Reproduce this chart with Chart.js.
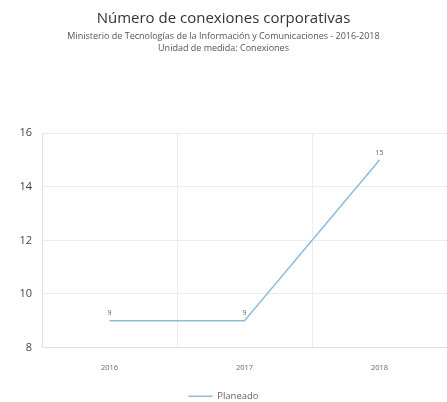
<!DOCTYPE html>
<html>
<head>
<meta charset="utf-8">
<script src="https://cdn.jsdelivr.net/npm/chart.js@4/dist/chart.umd.min.js"></script>
<style>
  html, body { margin: 0; padding: 0; background: #fff; }
  #wrap { width: 447px; height: 402px; }
</style>
</head>
<body>
<div id="wrap"><canvas id="c" width="447" height="402"></canvas></div>
<script>
const categories = ['2016', '2017', '2018'];
const plannedValues = [9, 9, 15];
const seriesName = 'Planeado';
const yTicks = [8, 10, 12, 14, 16];
const titleText = 'Número de conexiones corporativas';
const subtitleLines = [
  'Ministerio de Tecnologías de la Información y Comunicaciones - 2016-2018',
  'Unidad de medida: Conexiones'
];

const FONT = "'Open Sans', 'Noto Sans', sans-serif";

const valueLabels = {
  id: 'valueLabels',
  afterDatasetsDraw(chart) {
    const ctx = chart.ctx;
    ctx.save();
    ctx.font = '7px ' + FONT;
    ctx.fillStyle = '#666';
    ctx.textAlign = 'center';
    ctx.textBaseline = 'bottom';
    chart.data.datasets.forEach((ds, i) => {
      chart.getDatasetMeta(i).data.forEach((pt, j) => {
        ctx.fillText(String(ds.data[j]), pt.x, pt.y - 4);
      });
    });
    ctx.restore();
  }
};

new Chart(document.getElementById('c'), {
  type: 'line',
  data: {
    labels: categories,
    datasets: [{
      label: seriesName,
      data: plannedValues,
      borderColor: '#8cbcdb',
      backgroundColor: '#8cbcdb',
      borderWidth: 1.5,
      pointRadius: 0,
      tension: 0,
      fill: false
    }]
  },
  options: {
    responsive: false,
    animation: false,
    devicePixelRatio: 1,
    layout: { padding: { left: 0, right: 0, top: 0, bottom: -9 } },
    plugins: {
      title: {
        display: true,
        text: titleText,
        color: '#333',
        font: { family: FONT, size: 15, weight: 'normal' },
        padding: { top: 10, bottom: 0 }
      },
      subtitle: {
        display: true,
        text: subtitleLines,
        color: '#555',
        font: { family: FONT, size: 9, weight: 'normal', lineHeight: 1.35 },
        padding: { top: 2, bottom: 79 }
      },
      legend: {
        display: true,
        position: 'bottom',
        labels: {
          usePointStyle: true,
          pointStyle: 'line',
          pointStyleWidth: 24,
          boxWidth: 24,
          color: '#666',
          font: { family: FONT, size: 9.5 },
          padding: 1
        }
      },
      tooltip: { enabled: false }
    },
    scales: {
      x: {
        offset: true,
        grid: { offset: true, color: '#ececec', drawTicks: false },
        border: { color: '#e0e0e0' },
        ticks: { color: '#666', font: { family: FONT, size: 7.5 }, padding: 16 },
        afterFit(scale) { scale.height = 43; }
      },
      y: {
        min: 8,
        max: 16,
        afterBuildTicks(scale) { scale.ticks = yTicks.map(v => ({ value: v })); },
        grid: { color: '#ececec', drawTicks: false },
        border: { color: '#e0e0e0' },
        ticks: { color: '#444', font: { family: FONT, size: 11 }, padding: 10 },
        afterFit(scale) { scale.width = 42; }
      }
    }
  },
  plugins: [valueLabels]
});
</script>
</body>
</html>
